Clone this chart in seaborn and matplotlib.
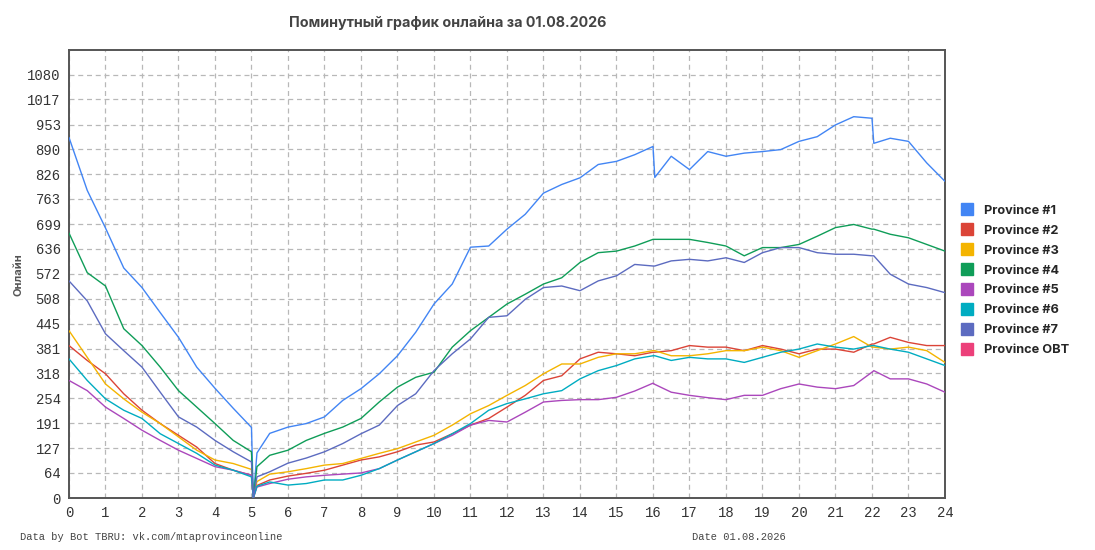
import pandas as pd
import numpy as np
import matplotlib.pyplot as plt
from matplotlib.lines import Line2D
import seaborn as sns

# hours of the day (minute data at ~30 min steps)
hours = [0, 0.5, 1, 1.5, 2, 2.5, 3, 3.5, 4, 4.5, 5, 5.05, 5.15, 5.5,
         6, 6.5, 7, 7.5, 8, 8.5, 9, 9.5, 10, 10.5, 11, 11.5, 12, 12.5,
         13, 13.5, 14, 14.5, 15, 15.5, 16, 16.05, 16.5, 17, 17.5, 18, 18.5,
         19, 19.5, 20, 20.5, 21, 21.5, 22, 22.05, 22.5, 23, 23.5, 24]

p1 = [920, 785, 689, 587, 537, 473, 410, 334, 280, 229, 180, 0, 115, 165,
      181, 190, 207, 249, 279, 317, 363, 423, 495, 546, 640, 643, 686, 724,
      778, 800, 817, 851, 859, 876, 897, 818, 872, 838, 884, 872, 880,
      884, 889, 910, 922, 952, 973, 969, 905, 918, 910, 855, 808]
p2 = [389, 351, 317, 266, 224, 190, 160, 130, 88, 71, 58, 0, 32, 46,
      56, 63, 71, 84, 97, 105, 118, 135, 143, 164, 186, 203, 232, 262,
      300, 312, 355, 372, 368, 363, 372, 372, 376, 389, 385, 385, 376,
      389, 380, 368, 380, 380, 372, 393, 393, 410, 397, 389, 389]
p3 = [427, 359, 291, 253, 219, 190, 156, 122, 97, 88, 73, 0, 42, 61,
      67, 75, 84, 88, 101, 114, 126, 143, 160, 186, 215, 236, 262, 287,
      317, 342, 342, 359, 368, 368, 376, 376, 363, 363, 368, 376, 376,
      385, 376, 359, 376, 393, 412, 385, 385, 380, 385, 376, 346]
p4 = [676, 575, 541, 432, 389, 334, 274, 232, 190, 147, 118, 0, 80, 109,
      122, 147, 165, 181, 203, 245, 283, 308, 321, 385, 427, 461, 495, 520,
      546, 562, 601, 626, 630, 643, 660, 660, 660, 660, 652, 643, 618,
      639, 639, 647, 668, 690, 698, 686, 686, 673, 664, 647, 630]
p5 = [300, 274, 232, 203, 173, 147, 122, 101, 80, 71, 58, 0, 28, 37,
      48, 54, 58, 61, 64, 75, 97, 118, 139, 160, 186, 198, 194, 219,
      245, 249, 251, 251, 257, 273, 293, 290, 270, 262, 256, 251, 262,
      262, 279, 291, 283, 279, 287, 321, 325, 304, 304, 291, 270]
p6 = [355, 300, 253, 224, 203, 164, 139, 114, 84, 71, 54, 0, 30, 41,
      33, 37, 46, 46, 58, 75, 97, 118, 139, 164, 190, 224, 241, 253,
      266, 274, 304, 325, 338, 355, 363, 363, 351, 359, 355, 355, 346,
      359, 372, 380, 393, 385, 380, 389, 389, 380, 372, 355, 338]
p7 = [554, 503, 419, 376, 334, 270, 207, 181, 147, 118, 92, 0, 54, 67,
      89, 102, 118, 139, 164, 186, 236, 266, 325, 368, 406, 461, 465, 507,
      537, 541, 529, 554, 567, 596, 592, 592, 605, 609, 605, 613, 601,
      626, 639, 639, 626, 622, 622, 618, 618, 571, 546, 537, 524]

names = ['Province #1', 'Province #2', 'Province #3', 'Province #4',
         'Province #5', 'Province #6', 'Province #7', 'Province OBT']
colors = ['#4285f4', '#db4437', '#f4b400', '#0f9d58',
          '#ab47bc', '#00acc1', '#5c6bc0', '#ec407a']
series = [p1, p2, p3, p4, p5, p6, p7]

yticks = [0, 64, 127, 191, 254, 318, 381, 445, 508, 572, 636, 699,
          763, 826, 890, 953, 1017, 1080]

df = pd.concat([pd.DataFrame({'hour': hours, 'online': vals, 'province': nm})
                for nm, vals in zip(names, series)], ignore_index=True)

sns.set_style('white')
fig = plt.figure(figsize=(10.95, 5.5), dpi=100)
ax = fig.add_axes([0.063, 0.0945, 0.8, 0.8145])

sns.lineplot(data=df, x='hour', y='online', hue='province',
             palette=dict(zip(names, colors)), linewidth=1.0,
             legend=False, ax=ax, zorder=3)

ax.set_xlim(0, 24)
ax.set_ylim(0, 1143)
ax.set_xticks(range(25))
ax.set_yticks(yticks)
ax.set_yticklabels([str(v) for v in yticks])
ax.grid(True, linestyle=(0, (4, 3)), color='#b8b8b8', linewidth=0.9)
ax.tick_params(length=0, labelsize=10, colors='#333333', pad=6)
for lab in ax.get_xticklabels() + ax.get_yticklabels():
    lab.set_family('Liberation Mono')
for sp in ax.spines.values():
    sp.set_color('#555555')
    sp.set_linewidth(1.4)
ax.set_xlabel('')
ax.set_ylabel('')

fig.text(0.409, 0.958, 'Поминутный график онлайна за 01.08.2026',
         ha='center', va='center', fontsize=10.3, fontweight='bold',
         color='#444444', family='Inter')
fig.text(0.017, 0.5, 'Онлайн', rotation=90, ha='center', va='center',
         fontsize=8, fontweight='bold', color='#555555', family='Inter')
fig.text(0.018, 0.023, 'Data by Bot TBRU: vk.com/mtaprovinceonline',
         fontsize=7.5, color='#444444', family='Liberation Mono', va='center')
fig.text(0.632, 0.023, 'Date 01.08.2026',
         fontsize=7.5, color='#444444', family='Liberation Mono', va='center')

handles = [Line2D([], [], linestyle='none', marker='s', markersize=9,
                  markerfacecolor=c, markeredgecolor=c) for c in colors]
leg = fig.legend(handles, names, loc='center left', bbox_to_anchor=(0.861, 0.49),
                 frameon=False, handletextpad=0.3, labelspacing=0.62,
                 prop={'family': 'Inter', 'weight': 'bold', 'size': 9.2})

plt.savefig('out.png', dpi=100)
